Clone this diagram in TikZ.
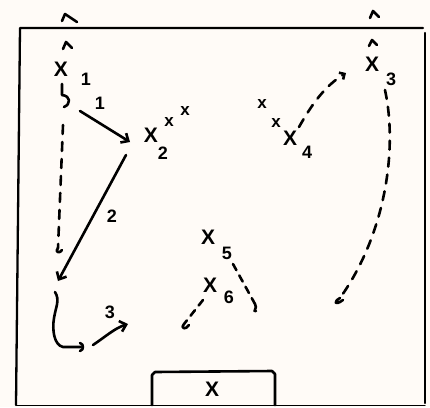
\documentclass[tikz,border=0pt]{standalone}
\usepackage{fontspec}
\setmainfont{Liberation Sans}
\usetikzlibrary{arrows.meta}
\begin{document}
\begin{tikzpicture}[x=1pt,y=-1pt,line cap=round,line join=round,
  pen/.style={line width=2.6pt,black},
  frameline/.style={line width=2.3pt,black},
  runline/.style={pen,dash pattern=on 9pt off 8pt},
  barb/.style={-{Straight Barb[length=6pt,width=11pt]}},
  smallbarb/.style={-{Straight Barb[length=4pt,width=8pt]}},
  player/.style={font=\bfseries\fontsize{21}{21}\selectfont,inner sep=0pt},
  minor/.style={font=\bfseries\fontsize{17}{17}\selectfont,inner sep=0pt},
  lab/.style={font=\bfseries\fontsize{18}{18}\selectfont,inner sep=0pt}]
\useasboundingbox (0,0) rectangle (430,407);
\fill[white!97!orange] (0,0) rectangle (430,407);
% pitch frame
\draw[frameline] (16,405) -- (20,28) -- (423,28);
\draw[frameline] (425,33) -- (425,403);
\draw[line width=1pt] (16,405) -- (425,405);
% goal box
\draw[pen] (152,405) -- (152,375) -- (155,372) -- (272,371) -- (275,374) -- (275,405);
\node[player] (goal) at (212,389) {X};
% left column players
\draw[pen] (62,21) -- (65,14) -- (77,22);
\draw[pen] (63,49) -- (66,42) -- (72,48);
\node[player] (p1) at (61,69) {X};
\node[lab] (l1a) at (86,79) {1};
% dashed run from p1
\draw[pen] (62,84) -- (62,95) .. controls (71,96) and (71,104) .. (64,107);
\coordinate (r1s) at (63,125);
\coordinate (r1e) at (58,248);
\draw[runline] (r1s) -- (r1e);
\draw[pen] (r1e) .. controls (54,252) and (60,254) .. (62,250);
% pass 1
\coordinate (a1s) at (80,111);
\coordinate (a1e) at (130,142);
\draw[pen,barb] (a1s) -- (a1e);
\node[lab] (l1b) at (100,103) {1};
% group 2
\node[player] (p2) at (151,135) {X};
\node[lab] (l2) at (163,153) {2};
\node[minor] (p2b) at (169,122) {x};
\node[minor] (p2c) at (185,111) {x};
% pass 2
\coordinate (a2s) at (126,155);
\coordinate (a2e) at (58,281);
\draw[pen,barb] (a2s) -- (a2e);
\node[lab] (l2b) at (112,216) {2};
% dribble squiggle
\coordinate (d1) at (55,292);
\coordinate (d2) at (81,347);
\draw[pen] (d1) .. controls (60,300) and (56,306) .. (54,318)
  .. controls (52,330) and (54,345) .. (63,347) -- (d2);
\draw[pen] (80,343) .. controls (84,344) and (84,350) .. (80,351);
% pass 3
\coordinate (a3s) at (93,345);
\coordinate (a3e) at (128,324);
\draw[pen,barb] (a3s) .. controls (105,337) and (115,328) .. (a3e);
\node[lab] (l3) at (110,312) {3};
% right column
\draw[pen] (370,18) -- (373,11) -- (379,17);
\draw[pen] (369,46) -- (372,40) -- (377,45);
\node[player] (p3) at (372,64) {X};
\node[lab] (l3b) at (391,79) {3};
\coordinate (r3s) at (385,90);
\coordinate (r3e) at (340,298);
\draw[runline] (r3s) .. controls (398,150) and (385,235) .. (r3e);
\draw[pen] (r3e) .. controls (333,302) and (335,306) .. (343,300);
% group 4
\node[minor] (p4a) at (262,104) {x};
\node[minor] (p4b) at (276,123) {x};
\node[player] (p4) at (290,138) {X};
\node[lab] (l4) at (307,152) {4};
\coordinate (r4s) at (299,127);
\coordinate (r4e) at (346,73);
\draw[runline,smallbarb] (r4s) .. controls (312,104) and (325,86) .. (r4e);
% players 5 and 6
\node[player] (p5) at (208,237) {X};
\node[lab] (l5) at (227,253) {5};
\node[player] (p6) at (210,285) {X};
\node[lab] (l6) at (229,297) {6};
\coordinate (r5s) at (233,264);
\coordinate (r5e) at (255,304);
\draw[pen,dash pattern=on 7pt off 6pt] (r5s) -- (r5e);
\draw[pen] (r5e) .. controls (258,308) and (252,312) .. (256,311);
\coordinate (r6s) at (203,300);
\coordinate (r6e) at (184,324);
\draw[pen,dash pattern=on 7pt off 6pt] (r6s) -- (r6e);
\draw[pen] (r6e) .. controls (180,329) and (186,330) .. (189,325);
\end{tikzpicture}
\end{document}
